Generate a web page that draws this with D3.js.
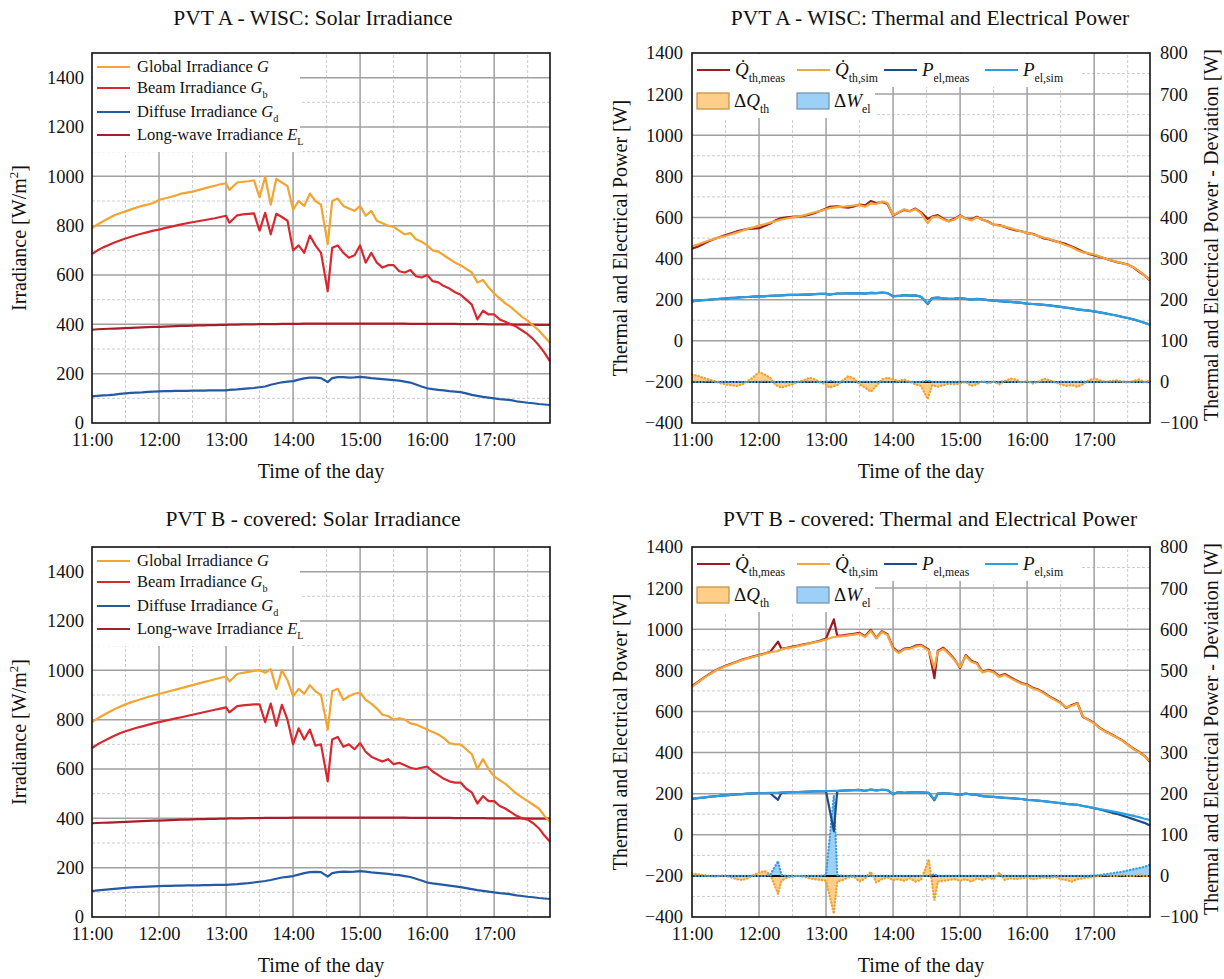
<!DOCTYPE html>
<html>
<head>
<meta charset="utf-8">
<script src="https://cdn.jsdelivr.net/npm/d3@7"></script>
<style>
  body { margin: 0; background: #fff; }
  svg { display: block; }
  svg text { font-family: 'Liberation Serif', 'DejaVu Serif', serif !important; fill: #111; }
</style>
</head>
<body>
<svg id="fig" width="1224" height="979"></svg>
<script>
// ---- time stamps (minutes after 11:00) ----
const timesA = [0,5,10,15,20,25,30,35,40,45,50,55,
  60,65,70,75,80,85,90,95,100,105,110,115,
  120,123,130,135,140,145,150,155,160,165,170,175,
  180,185,190,195,200,205,211,215,220,225,230,235,
  240,245,250,255,260,265,270,275,280,285,290,295,
  300,305,310,315,320,325,330,335,340,345,350,355,
  360,365,370,375,380,385,390,395,400,405,410];
const timesB = [0,5,10,15,20,25,30,35,40,45,50,55,
  60,65,70,77,80,85,90,95,100,105,110,115,
  120,127,130,135,140,145,150,155,160,165,170,175,
  180,185,190,195,200,205,212,217,220,225,230,235,
  240,245,250,255,260,265,270,275,280,285,290,295,
  300,305,310,315,320,325,330,335,340,345,350,355,
  360,365,370,375,380,385,390,395,400,405,410];

const hourTicks = [0,60,120,180,240,300,360];
const hourLabels = ["11:00","12:00","13:00","14:00","15:00","16:00","17:00"];

// ---- PVT A - WISC: irradiance [W/m²] ----
const globalA = [790,805,818,830,842,850,858,866,874,880,886,892,
  904,910,916,922,930,934,938,944,950,956,962,968,
  972,945,975,978,980,984,915,998,885,990,975,960,
  865,900,880,930,900,885,725,900,910,880,870,860,
  880,840,860,820,810,800,795,780,765,770,745,735,
  720,700,695,680,665,650,640,625,610,570,580,550,
  525,505,485,470,450,430,415,395,375,350,325];
const beamA = [685,700,712,722,732,740,748,755,762,768,774,780,
  784,790,795,800,805,810,814,818,822,826,830,835,
  840,812,842,846,848,850,780,852,765,848,835,820,
  700,720,690,760,720,690,535,710,720,690,670,680,
  720,650,690,650,630,640,640,615,610,620,595,590,
  600,575,570,555,545,530,520,500,480,420,455,440,
  440,420,410,400,390,375,360,340,315,285,250];
const diffuseA = [108,110,112,113,115,118,120,122,123,124,126,127,
  128,129,129,130,130,130,131,131,131,132,132,132,
  132,134,136,138,140,142,145,148,155,160,165,168,
  170,176,181,184,184,182,166,182,186,186,184,185,
  187,185,182,180,178,176,174,172,168,164,156,148,
  141,137,134,132,129,127,125,120,114,110,106,103,
  100,97,95,93,88,85,82,80,77,75,73];
const longwaveA = [378,380,381,382,383,384,385,386,387,388,389,390,
  390,391,392,393,394,394,395,396,396,397,397,398,
  398,399,399,400,400,400,401,401,401,401,402,402,
  402,402,403,403,403,403,403,403,403,403,403,403,
  403,403,403,403,403,403,403,403,403,402,402,402,
  402,402,402,402,402,402,401,401,401,401,401,400,
  400,400,400,400,399,399,399,399,398,398,398];

// ---- PVT A - WISC: thermal and electrical power [W] ----
const qSimA = [460,468,478,488,496,503,510,518,526,535,545,552,
  560,567,575,582,590,595,600,605,610,618,625,632,
  640,645,650,652,655,658,660,652,668,665,678,670,
  612,625,640,630,640,620,572,600,605,590,580,590,
  608,595,585,600,590,578,565,560,555,548,540,532,
  525,518,510,502,495,485,475,465,455,440,430,425,
  420,410,400,392,385,378,370,358,340,318,295];
const qMeasA = [448,458,471,484,495,505,514,523,532,539,544,546,
  548,558,570,586,597,600,603,605,608,613,622,633,
  643,652,654,650,648,654,663,659,680,670,675,665,
  609,624,637,630,643,625,593,604,611,594,582,593,
  610,595,590,603,589,580,565,563,554,544,537,533,
  524,520,510,498,493,485,478,470,459,446,433,423,
  416,408,400,391,383,378,371,357,337,318,294];
const pSimA = [192,195,198,200,202,204,206,208,210,212,213,215,
  216,217,219,220,221,222,223,224,225,226,227,228,
  228,226,230,230,231,231,232,230,233,232,234,232,
  216,218,222,220,221,214,182,208,210,206,204,205,
  208,204,200,203,201,198,195,193,191,189,187,184,
  181,179,177,175,172,168,165,161,158,153,150,147,
  143,138,133,128,123,117,111,104,96,87,78];
const pMeasA = [192,195,198,199,202,204,206,209,210,212,213,215,
  216,216,219,220,221,223,223,224,225,225,227,228,
  228,224,230,230,231,231,232,229,233,232,234,232,
  217,218,222,220,221,214,179,208,210,206,204,205,
  208,204,200,204,201,198,195,193,190,189,187,184,
  181,179,177,175,172,169,165,161,158,153,149,147,
  143,138,133,128,123,116,111,104,96,88,78];
const dQthA = [18,15,10,6,2,-3,-6,-8,-10,-6,2,12,
  24,18,10,-8,-14,-10,-6,0,4,10,6,-2,
  -6,-14,-8,4,14,8,-6,-14,-24,-10,6,10,
  6,2,6,0,-6,-10,-42,-8,-12,-8,-4,-6,
  -4,0,-10,-6,2,-4,0,-6,2,8,6,-2,
  2,-4,0,8,4,0,-6,-10,-8,-12,-6,4,
  8,4,0,2,4,0,-2,2,6,0,2];
const dWelA = [0,0,0,1,0,0,0,-1,0,0,0,0,
  0,1,0,0,0,-1,0,0,0,1,0,0,
  0,2,0,0,0,0,0,1,0,0,0,0,
  -1,0,0,0,0,0,3,0,0,0,0,0,
  0,0,0,-1,0,0,0,0,1,0,0,0,
  0,0,0,0,0,-1,0,0,0,0,1,0,
  0,0,0,0,0,1,0,0,0,-1,0];

// ---- PVT B - covered: irradiance [W/m²] ----
const globalB = [790,805,818,830,842,852,862,870,878,885,892,898,
  904,910,916,922,928,934,940,946,952,958,964,970,
  975,955,985,990,994,998,1000,990,1005,925,1000,960,
  895,925,905,940,915,900,760,915,925,880,895,905,
  910,880,865,845,820,815,800,805,800,785,780,770,
  760,750,740,725,705,700,700,680,660,600,640,600,
  570,555,540,520,500,485,470,455,440,410,385];
const beamB = [685,700,712,724,735,745,753,760,767,773,779,785,
  790,795,800,805,810,815,820,825,830,835,840,845,
  850,830,855,858,860,862,862,790,865,775,860,800,
  700,765,720,760,695,700,550,720,730,690,700,680,
  705,670,650,640,630,640,620,625,615,605,600,605,
  610,590,575,560,550,545,545,520,505,460,490,470,
  470,450,440,425,410,400,395,380,360,330,305];
const diffuseB = [105,108,110,112,114,116,118,120,121,122,123,124,
  125,126,126,127,127,128,128,128,129,129,130,130,
  130,131,133,135,137,140,143,146,150,155,160,163,
  166,172,178,182,183,182,164,178,182,184,183,184,
  186,184,181,179,177,175,172,170,166,162,155,148,
  140,136,133,130,127,124,121,117,113,109,106,103,
  100,97,95,92,88,85,82,80,77,75,73];
const longwaveB = [380,381,382,383,384,385,386,387,388,389,390,391,
  391,392,393,394,395,395,396,397,397,398,398,399,
  399,400,400,400,401,401,401,402,402,402,402,402,
  403,403,403,403,403,403,403,403,403,403,403,403,
  403,403,403,403,403,403,403,403,403,402,402,402,
  402,402,402,402,402,401,401,401,401,401,401,400,
  400,400,400,400,400,400,399,399,399,399,399];

// ---- PVT B - covered: thermal and electrical power [W] ----
const qSimB = [720,740,760,778,795,808,820,830,840,850,858,866,
  872,880,888,894,902,908,912,918,924,930,936,942,
  950,962,964,966,970,974,978,962,992,955,986,972,
  905,884,902,905,915,920,896,811,890,905,880,850,
  815,870,842,832,790,798,790,768,778,762,748,735,
  728,712,703,688,670,655,640,620,628,638,575,558,
  542,518,502,488,473,458,438,418,402,382,358];
const qMeasB = [724,742,762,780,797,810,822,832,842,852,860,868,
  874,882,890,940,905,910,915,920,926,932,938,945,
  955,1048,968,970,974,978,982,966,997,958,990,976,
  910,888,906,908,920,924,900,762,894,910,884,854,
  811,874,846,836,793,802,794,772,782,766,752,738,
  731,715,706,691,673,658,643,617,631,641,573,560,
  544,520,504,490,475,460,440,420,404,384,355];
const pSimB = [175,178,181,184,187,190,192,194,196,198,200,201,
  202,203,204,205,206,207,208,208,209,210,211,212,
  213,214,214,215,216,217,218,214,220,216,219,217,
  198,208,204,206,208,206,204,172,200,202,200,198,
  194,200,196,194,188,186,184,182,180,178,176,174,
  170,168,166,163,160,157,154,150,148,146,140,136,
  130,125,120,115,110,104,98,92,86,78,72];
const pMeasB = [175,178,181,184,187,190,192,194,196,198,200,201,
  202,203,202,170,204,207,208,208,209,210,211,212,
  211,18,212,215,216,217,218,214,220,216,219,217,
  198,208,204,206,208,206,204,168,200,202,200,198,
  194,200,196,194,188,186,184,182,180,178,176,174,
  170,168,166,163,160,157,154,150,148,146,140,135,
  129,123,116,109,102,94,85,76,67,58,45];
const dQthB = [6,4,2,0,-2,0,0,-4,-8,-10,-6,2,
  8,12,4,-44,-12,-4,-2,0,-2,-6,-8,-10,
  -12,-92,-14,-10,-4,-2,-14,-6,10,-16,-8,-4,
  -10,-8,-12,-6,-14,-10,40,-60,-14,-12,-10,-8,
  -12,-8,-14,-6,-10,-4,-8,8,-10,-6,-8,-6,
  -4,-8,-6,-4,-6,-2,-8,-10,-14,-8,-6,-4,
  -2,0,2,0,0,2,0,0,2,0,0];
const dWelB = [0,0,0,0,0,0,0,0,0,0,0,0,
  0,0,2,36,2,0,0,0,0,0,0,0,
  2,196,2,0,0,0,0,0,0,0,0,0,
  0,0,0,0,0,0,0,4,0,0,0,0,
  0,0,0,0,0,0,0,0,0,0,0,0,
  0,0,0,0,0,0,0,0,0,0,0,0,
  1,2,4,6,8,10,13,16,19,22,27];

// ---- colours ----
const C = {
  global: "#f3a431", beam: "#d8272f", diffuse: "#255aa3", longwave: "#a51f28",
  qMeas: "#9c1a21", qSim: "#f4a53c", pMeas: "#1c4d8a", pSim: "#2e9ee2",
  dqFill: "#ffcf8a", dqLine: "#f0a030", dqEdge: "#c98a3c",
  dwFill: "#9dd0f7", dwLine: "#3a9de2", dwEdge: "#6d8fae",
  major: "#a0a0a0", minor: "#cccccc"
};
const SERIF = "'Liberation Serif', 'DejaVu Serif', serif";

const svg = d3.select("#fig").style("font-family", SERIF);

function rich(g, x, y, parts, size) {
  const t = g.append("text").attr("x", x).attr("y", y).style("font-size", size + "px");
  parts.forEach(p => {
    const s = t.append("tspan").text(p.t);
    if (p.it) s.style("font-style", "italic");
    if (p.sub) s.style("font-size", (size * 0.62) + "px").attr("dy", size * 0.3);
  });
  return t;
}

function grid(g, x, y, xMajor, xMinor, yMajor, yMinor) {
  const [x0, x1] = x.range();
  const [y0, y1] = y.range();
  g.append("g").selectAll("line").data(xMinor).join("line")
    .attr("x1", d => x(d)).attr("x2", d => x(d)).attr("y1", y0).attr("y2", y1)
    .attr("stroke", C.minor).attr("stroke-width", 1).attr("stroke-dasharray", "3,2");
  g.append("g").selectAll("line").data(yMinor).join("line")
    .attr("y1", d => y(d)).attr("y2", d => y(d)).attr("x1", x0).attr("x2", x1)
    .attr("stroke", C.minor).attr("stroke-width", 1).attr("stroke-dasharray", "3,2");
  g.append("g").selectAll("line").data(xMajor).join("line")
    .attr("x1", d => x(d)).attr("x2", d => x(d)).attr("y1", y0).attr("y2", y1)
    .attr("stroke", C.major).attr("stroke-width", 1.5);
  g.append("g").selectAll("line").data(yMajor).join("line")
    .attr("y1", d => y(d)).attr("y2", d => y(d)).attr("x1", x0).attr("x2", x1)
    .attr("stroke", C.major).attr("stroke-width", 1.5);
}

function border(g, x, y) {
  const [x0, x1] = x.range();
  const [y0, y1] = y.range();
  g.append("rect").attr("x", x0).attr("y", y1).attr("width", x1 - x0).attr("height", y0 - y1)
    .attr("fill", "none").attr("stroke", "#111").attr("stroke-width", 1.6);
}

function styleTicks(ax) {
  ax.select(".domain").remove();
  ax.attr("font-family", SERIF).attr("font-size", 18.5);
  ax.selectAll("text").attr("fill", "#111");
}

function timeAxis(g, x, y) {
  const ax = g.append("g").attr("transform", `translate(0,${y.range()[0]})`)
    .call(d3.axisBottom(x).tickValues(hourTicks).tickFormat((d, i) => hourLabels[i])
      .tickSize(0).tickPadding(10));
  styleTicks(ax);
}

function leftAxis(g, x0, y, ticks, pad) {
  const ax = g.append("g").attr("transform", `translate(${x0},0)`)
    .call(d3.axisLeft(y).tickValues(ticks).tickFormat(d3.format("d")).tickSize(0).tickPadding(pad));
  styleTicks(ax);
}

function vTitle(g, cx, cy, parts, size) {
  const t = g.append("text").attr("transform", `translate(${cx},${cy}) rotate(-90)`)
    .attr("text-anchor", "middle").style("font-size", size + "px");
  parts.forEach(p => {
    const s = t.append("tspan").text(p.t);
    if (p.sup) s.style("font-size", (size * 0.65) + "px").attr("dy", -size * 0.38);
    if (p.back) s.attr("dy", size * 0.38);
  });
}

// ---------- irradiance panel ----------
function irradiancePanel(top, titleY, title, times, series) {
  const g = svg.append("g");
  const x = d3.scaleLinear().domain([0, 410]).range([92, 550]);
  const y = d3.scaleLinear().domain([0, 1500]).range([top + 370, top]);

  grid(g, x, y, [60,120,180,240,300,360], [30,90,150,210,270,330,390],
       [200,400,600,800,1000,1200,1400], [100,300,500,700,900,1100,1300]);

  const line = d3.line().x((d, i) => x(times[i])).y(d => y(d));
  series.forEach(s => {
    g.append("path").datum(s.values).attr("d", line).attr("fill", "none")
      .attr("stroke", s.color).attr("stroke-width", 2.2).attr("stroke-linejoin", "round");
  });

  // legend
  const lg = g.append("g");
  lg.append("rect").attr("x", 93).attr("y", top + 1).attr("width", 207).attr("height", 98).attr("fill", "#fff");
  const rows = [
    { color: C.global, parts: [{t: "Global Irradiance "}, {t: "G", it: true}] },
    { color: C.beam, parts: [{t: "Beam Irradiance "}, {t: "G", it: true}, {t: "b", sub: true}] },
    { color: C.diffuse, parts: [{t: "Diffuse Irradiance "}, {t: "G", it: true}, {t: "d", sub: true}] },
    { color: C.longwave, parts: [{t: "Long-wave Irradiance "}, {t: "E", it: true}, {t: "L", sub: true}] }
  ];
  const rowY = [14, 35, 59, 82];
  rows.forEach((r, i) => {
    const cy = top + rowY[i];
    lg.append("line").attr("x1", 97).attr("x2", 130).attr("y1", cy).attr("y2", cy)
      .attr("stroke", r.color).attr("stroke-width", 2);
    rich(lg, 137, cy + 5, r.parts, 16.5);
  });

  border(g, x, y);
  leftAxis(g, 92, y, [0,200,400,600,800,1000,1200,1400], 8);
  timeAxis(g, x, y);

  vTitle(g, 26, top + 185, [{t: "Irradiance [W/m"}, {t: "2", sup: true}, {t: "]", back: true}], 20);
  g.append("text").attr("x", 321).attr("y", top + 425).attr("text-anchor", "middle")
    .style("font-size", "20px").text("Time of the day");
  g.append("text").attr("x", 313).attr("y", titleY).attr("text-anchor", "middle")
    .style("font-size", "21.5px").text(title);
}

// ---------- power panel ----------
function powerPanel(top, titleY, title, times, d) {
  const g = svg.append("g");
  const x = d3.scaleLinear().domain([0, 410]).range([692, 1150]);
  const y = d3.scaleLinear().domain([-400, 1400]).range([top + 370, top]);
  const yR = d3.scaleLinear().domain([-100, 800]).range([top + 370, top]);

  grid(g, x, y, [60,120,180,240,300,360], [30,90,150,210,270,330,390],
       [-200,0,200,400,600,800,1000,1200], [-300,-100,100,300,500,700,900,1100,1300]);

  const px = (dd, i) => x(times[i]);
  const line = d3.line().x(px).y(v => y(v));
  const lineR = d3.line().x(px).y(v => yR(v));
  const area = d3.area().x(px).y0(yR(0)).y1(v => yR(v));

  // deviation bands (right axis)
  g.append("path").datum(d.dq).attr("d", area).attr("fill", C.dqFill);
  g.append("path").datum(d.dw).attr("d", area).attr("fill", C.dwFill);
  g.append("line").attr("x1", x.range()[0]).attr("x2", x.range()[1])
    .attr("y1", yR(0)).attr("y2", yR(0)).attr("stroke", "#111").attr("stroke-width", 2);
  g.append("path").datum(d.dq).attr("d", lineR).attr("fill", "none")
    .attr("stroke", C.dqLine).attr("stroke-width", 2.2).attr("stroke-linecap", "round")
    .attr("stroke-dasharray", "0.5,2.8");
  g.append("path").datum(d.dw).attr("d", lineR).attr("fill", "none")
    .attr("stroke", C.dwLine).attr("stroke-width", 2.2).attr("stroke-linecap", "round")
    .attr("stroke-dasharray", "0.5,2.8");

  // power curves (left axis)
  [[d.pMeas, C.pMeas], [d.pSim, C.pSim], [d.qMeas, C.qMeas], [d.qSim, C.qSim]].forEach(([vals, col]) => {
    g.append("path").datum(vals).attr("d", line).attr("fill", "none")
      .attr("stroke", col).attr("stroke-width", 2.2).attr("stroke-linejoin", "round");
  });

  // legend
  const lg = g.append("g");
  lg.append("rect").attr("x", 693).attr("y", top + 1).attr("width", 387).attr("height", 33).attr("fill", "#fff");
  lg.append("rect").attr("x", 693).attr("y", top + 33).attr("width", 182).attr("height", 32).attr("fill", "#fff");
  const r1 = top + 17;
  const items = [
    { x: 697, color: C.qMeas, parts: [{t: "Q\u0307", it: true}, {t: "th,meas", sub: true}] },
    { x: 797, color: C.qSim, parts: [{t: "Q\u0307", it: true}, {t: "th,sim", sub: true}] },
    { x: 884, color: C.pMeas, parts: [{t: "P", it: true}, {t: "el,meas", sub: true}] },
    { x: 985, color: C.pSim, parts: [{t: "P", it: true}, {t: "el,sim", sub: true}] }
  ];
  items.forEach(it => {
    lg.append("line").attr("x1", it.x).attr("x2", it.x + 33).attr("y1", r1).attr("y2", r1)
      .attr("stroke", it.color).attr("stroke-width", 2);
    rich(lg, it.x + 38, r1 + 6, it.parts, 19);
  });
  const r2 = top + 48;
  const boxes = [
    { x: 697, fill: C.dqFill, edge: C.dqEdge, parts: [{t: "\u0394"}, {t: "Q", it: true}, {t: "th", sub: true}] },
    { x: 797, fill: C.dwFill, edge: C.dwEdge, parts: [{t: "\u0394"}, {t: "W", it: true}, {t: "el", sub: true}] }
  ];
  boxes.forEach(b => {
    lg.append("rect").attr("x", b.x).attr("y", r2 - 8).attr("width", 32).attr("height", 16)
      .attr("fill", b.fill).attr("stroke", b.edge).attr("stroke-width", 1.2);
    rich(lg, b.x + 37, r2 + 6, b.parts, 19);
  });

  border(g, x, y);
  leftAxis(g, 692, y, [-400,-200,0,200,400,600,800,1000,1200,1400], 9);
  const axR = g.append("g").attr("transform", `translate(1150,0)`)
    .call(d3.axisRight(yR).tickValues([-100,0,100,200,300,400,500,600,700,800])
      .tickFormat(d3.format("d")).tickSize(0).tickPadding(10));
  styleTicks(axR);
  timeAxis(g, x, y);

  vTitle(g, 627, top + 185, [{t: "Thermal and Electrical Power [W]"}], 20);
  vTitle(g, 1218, top + 182, [{t: "Thermal and Electrical Power - Deviation [W]"}], 20);
  g.append("text").attr("x", 921).attr("y", top + 425).attr("text-anchor", "middle")
    .style("font-size", "20px").text("Time of the day");
  g.append("text").attr("x", 930).attr("y", titleY).attr("text-anchor", "middle")
    .style("font-size", "21.5px").text(title);
}

irradiancePanel(53, 25, "PVT A - WISC: Solar Irradiance", timesA, [
  { values: longwaveA, color: C.longwave },
  { values: diffuseA, color: C.diffuse },
  { values: globalA, color: C.global },
  { values: beamA, color: C.beam }
]);
powerPanel(53, 25, "PVT A - WISC: Thermal and Electrical Power", timesA, {
  qMeas: qMeasA, qSim: qSimA, pMeas: pMeasA, pSim: pSimA, dq: dQthA, dw: dWelA
});
irradiancePanel(547, 526, "PVT B - covered: Solar Irradiance", timesA, [
  { values: longwaveB, color: C.longwave },
  { values: diffuseB, color: C.diffuse },
  { values: globalB, color: C.global },
  { values: beamB, color: C.beam }
]);
powerPanel(547, 526, "PVT B - covered: Thermal and Electrical Power", timesB, {
  qMeas: qMeasB, qSim: qSimB, pMeas: pMeasB, pSim: pSimB, dq: dQthB, dw: dWelB
});
</script>
</body>
</html>
